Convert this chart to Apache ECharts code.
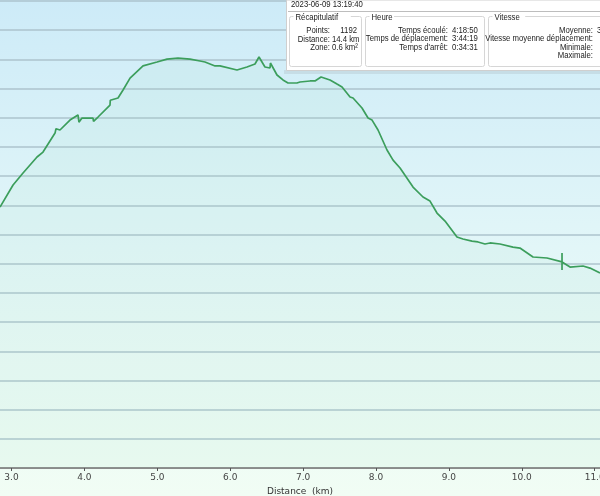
<!DOCTYPE html>
<html>
<head>
<meta charset="utf-8">
<script src="https://cdn.jsdelivr.net/npm/echarts@6/dist/echarts.min.js"></script>
<style>
  html, body { margin: 0; padding: 0; }
  #chart { width: 600px; height: 496px; }
</style>
</head>
<body>
<div id="chart"></div>
<script>
// distance (km) and altitude (m)
const distKm = [2.842, 3.021, 3.158, 3.350, 3.432, 3.597, 3.610, 3.665, 3.802, 3.912, 3.925, 3.967, 4.118, 4.125, 4.187,
  4.351, 4.355, 4.461, 4.530, 4.626, 4.804, 4.996, 5.133, 5.284, 5.449, 5.586, 5.654, 5.792, 5.860, 6.093,
  6.230, 6.340, 6.395, 6.477, 6.546, 6.552, 6.642, 6.724, 6.793, 6.916, 6.957, 7.095, 7.163, 7.246, 7.369,
  7.465, 7.534, 7.644, 7.685, 7.808, 7.891, 7.946, 8.028, 8.151, 8.234, 8.330, 8.508, 8.645, 8.741, 8.837,
  8.947, 9.111, 9.193, 9.317, 9.399, 9.495, 9.564, 9.701, 9.879, 9.975, 10.154, 10.346, 10.552, 10.552,
  10.552, 10.552, 10.662, 10.840, 10.936, 11.073];
const altM = [1178.8, 1193.9, 1202.1, 1213.1, 1216.5, 1229.5, 1232.5, 1231.6, 1238.4, 1241.9, 1237.0, 1239.8, 1239.8, 1237.5, 1240.5,
  1248.7, 1252.0, 1253.5, 1259.0, 1267.2, 1275.5, 1278.2, 1280.2, 1280.9, 1280.2, 1278.9, 1278.2, 1275.5, 1275.5, 1272.7,
  1274.8, 1276.8, 1281.6, 1274.8, 1274.1, 1277.5, 1269.3, 1265.9, 1263.8, 1263.8, 1264.5, 1265.2, 1265.2, 1267.9, 1265.9,
  1263.1, 1261.1, 1254.2, 1253.5, 1246.7, 1239.8, 1238.4, 1231.6, 1217.9, 1211.0, 1205.6, 1192.5, 1185.7, 1182.9, 1174.7,
  1169.2, 1158.3, 1156.9, 1155.5, 1154.9, 1153.5, 1154.2, 1153.5, 1151.4, 1150.7, 1144.6, 1143.9, 1141.2, 1147.3,
  1135.7, 1141.2, 1137.7, 1138.4, 1137.0, 1133.6];
const xTicks = [3, 4, 5, 6, 7, 8, 9, 10, 11];
const yMin = 1000, yMax = 1320, yStep = 20;

const points = distKm.map((d, i) => [d, altM[i]]);

const panelFont = '9px "Liberation Sans", Arial, sans-serif';
const txt = (x, y, s, align) => ({
  type: 'text', x: x, y: y, z: 101, scaleX: 0.86,
  style: { text: s, font: panelFont, fill: '#222', align: align || 'left', verticalAlign: 'middle' }
});
const box = (x, y, w, h, label) => [
  { type: 'rect', z: 100, shape: { x: x, y: y, width: w, height: h, r: 2 },
    style: { fill: '#fff', stroke: '#d6d6d6', lineWidth: 1 } },
  { type: 'rect', z: 100, shape: { x: x + 4, y: y - 3, width: label.length * 4.1 + 4, height: 6 },
    style: { fill: '#fff' } },
  txt(x + 6, y + 1, label)
];

const myChart = echarts.init(document.getElementById('chart'));

const option = {
  animation: false,
  backgroundColor: new echarts.graphic.LinearGradient(0, 0, 0, 1, [
    { offset: 0, color: '#cdebf8' },
    { offset: 0.5, color: '#e2f6f8' },
    { offset: 1, color: '#f1fdf4' }
  ]),
  grid: { left: 0, right: 0, top: 1, bottom: 28, outerBoundsMode: 'none', containLabel: false },
  xAxis: {
    type: 'value',
    min: distKm[0],
    max: distKm[distKm.length - 1],
    name: 'Distance  (km)',
    nameLocation: 'middle',
    nameGap: 19,
    nameTextStyle: { color: '#333', fontSize: 9, fontFamily: 'DejaVu Sans' },
    axisLine: { show: true, lineStyle: { color: '#8a8a8a', width: 2 } },
    axisTick: { show: true, customValues: xTicks, length: 3, lineStyle: { color: '#555' } },
    axisLabel: {
      customValues: xTicks, color: '#444', fontSize: 9, fontFamily: 'DejaVu Sans', margin: 5,
      hideOverlap: false, showMinLabel: true, showMaxLabel: true,
      formatter: v => v.toFixed(1)
    },
    splitLine: { show: false }
  },
  yAxis: {
    type: 'value',
    min: yMin, max: yMax, interval: yStep,
    axisLine: { show: false },
    axisTick: { show: false },
    axisLabel: { show: false },
    splitLine: { show: true, lineStyle: { color: 'rgba(170,192,202,0.7)', width: 2 } }
  },
  series: [
    {
      type: 'line',
      data: points,
      showSymbol: false,
      lineStyle: { color: '#3c9e5c', width: 1.7 },
      areaStyle: { origin: 'start', color: 'rgba(150,225,185,0.13)' },
      z: 3
    }
  ],
  graphic: [
    { type: 'rect', z: 99, shape: { x: 284, y: 70, width: 316, height: 4 }, style: { fill: '#c6dde6' } },
    { type: 'rect', z: 99, shape: { x: 286.5, y: 0, width: 314, height: 70.5 },
      style: { fill: '#fff', stroke: '#cfcfcf', lineWidth: 1 } },
    txt(291, 5, '2023-06-09 13:19:40'),
    { type: 'line', z: 100, shape: { x1: 288, y1: 11.5, x2: 600, y2: 11.5 }, style: { stroke: '#bdbdbd', lineWidth: 1 } },
    ...box(289.5, 16.5, 72, 50, 'Récapitulatif'),
    txt(330, 31, 'Points:', 'right'), txt(357, 31, '1192', 'right'),
    txt(330, 39.5, 'Distance:', 'right'), txt(332, 39.5, '14.4 km'),
    txt(330, 48, 'Zone:', 'right'), txt(332, 48, '0.6 km²'),
    ...box(365.5, 16.5, 119, 50, 'Heure'),
    txt(448, 30.5, 'Temps écoulé:', 'right'), txt(452, 30.5, '4:18:50'),
    txt(448, 39, 'Temps de déplacement:', 'right'), txt(452, 39, '3:44:19'),
    txt(448, 47.5, "Temps d'arrêt:", 'right'), txt(452, 47.5, '0:34:31'),
    ...box(488.5, 16.5, 120, 50, 'Vitesse'),
    txt(593, 30.5, 'Moyenne:', 'right'), txt(597, 30.5, '3'),
    txt(593, 39, 'Vitesse moyenne déplacement:', 'right'),
    txt(593, 47.5, 'Minimale:', 'right'),
    txt(593, 56, 'Maximale:', 'right')
  ]
};

myChart.setOption(option);
window.addEventListener('resize', function () {
  myChart.resize();
});
</script>
</body>
</html>
